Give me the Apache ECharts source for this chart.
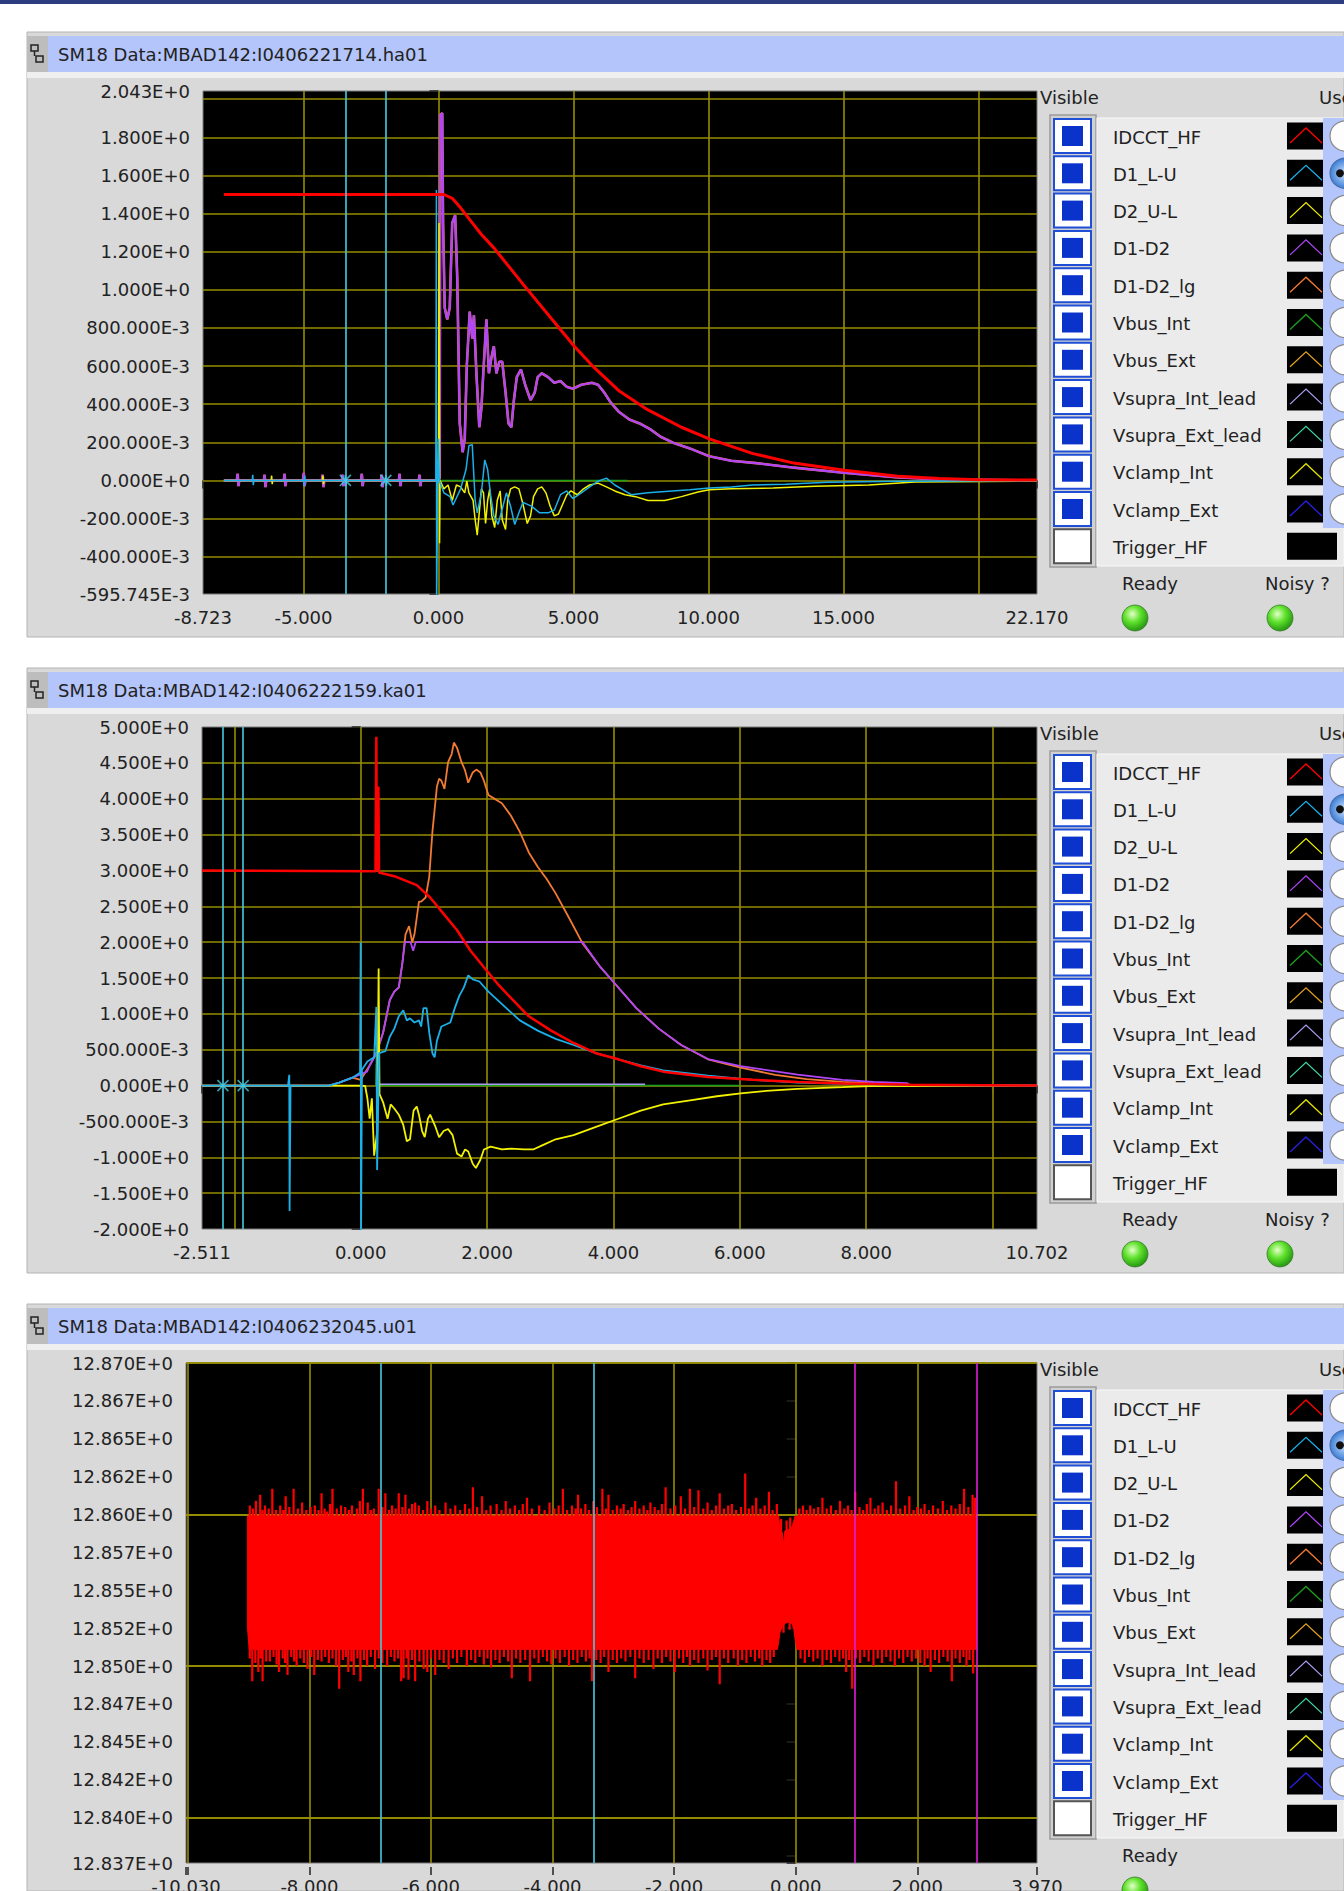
<!DOCTYPE html>
<html><head><meta charset="utf-8">
<script src="https://cdn.jsdelivr.net/npm/echarts@6/dist/echarts.min.js"></script>
<style>html,body{margin:0;padding:0;background:#fff;}#c{width:1344px;height:1891px;}</style>
</head><body><div id="c"></div>
<script>
// ---------------- DATA ----------------
const titles = ['SM18 Data:MBAD142:I0406221714.ha01','SM18 Data:MBAD142:I0406222159.ka01','SM18 Data:MBAD142:I0406232045.u01'];
const legendNames = ['IDCCT_HF','D1_L-U','D2_U-L','D1-D2','D1-D2_lg','Vbus_Int','Vbus_Ext','Vsupra_Int_lead','Vsupra_Ext_lead','Vclamp_Int','Vclamp_Ext','Trigger_HF'];
const legendColors = ['#ff0000','#1ab0ea','#f2f200','#b046fa','#f27a32','#1aa01a','#e0a020','#a89cf0','#40d8a8','#e0e000','#2a20e0',null];

// panel 1 axes
const p1XRange = [-8.723, 22.17];
const p1XTicks = [-8.723,-5,0,5,10,15,20,22.17];
const p1XLabels = [-8.723,-5,0,5,10,15,22.17];
const p1YRange = [-0.595745, 2.043];
const p1YTicks = [-0.595745,-0.4,-0.2,0,0.2,0.4,0.6,0.8,1.0,1.2,1.4,1.6,1.8,2.0,2.043];
const p1YLabels = [-0.595745,-0.4,-0.2,0,0.2,0.4,0.6,0.8,1.0,1.2,1.4,1.6,1.8,2.043];
const p1Cursors = [-3.45,-1.95];
// panel 2 axes
const p2XRange = [-2.511, 10.702];
const p2XTicks = [-2.511,-2,0,2,4,6,8,10,10.702];
const p2XLabels = [-2.511,0,2,4,6,8,10.702];
const p2YRange = [-2, 5];
const p2YTicks = [-2,-1.5,-1,-0.5,0,0.5,1,1.5,2,2.5,3,3.5,4,4.5,5];
const p2YLabels = [-2,-1.5,-1,-0.5,0,0.5,1,1.5,2,2.5,3,3.5,4,4.5,5];
const p2Cursors = [-2.18,-1.86];
// panel 3 axes
const p3XRange = [-10.03, 3.97];
const p3XTicks = [-10.03,-10,-8,-6,-4,-2,0,2,3.97];
const p3XLabels = [-10.03,-8,-6,-4,-2,0,2,3.97];
const p3YRange = [12.837, 12.870];
const p3YTicks = [12.837,12.8375,12.84,12.8425,12.845,12.8475,12.85,12.8525,12.855,12.8575,12.86,12.8625,12.865,12.8675,12.87];
const p3YLabels = [12.837,12.84,12.8425,12.845,12.8475,12.85,12.8525,12.855,12.8575,12.86,12.8625,12.865,12.8675,12.87];
const p3CursorsCyan = [-6.83,-3.33];
const p3CursorsMagenta = [0.97,2.98];

// panel 1 traces
const p1Red = [[-7.95,1.5],[0,1.5],[0.2,1.5],[0.51,1.48],[0.82,1.43],[1.2,1.36],[1.59,1.29],[2.05,1.22],[3.13,1.03],[4.44,0.805],[5.03,0.704],[5.76,0.593],[6.68,0.471],[7.76,0.37],[9.0,0.279],[10.03,0.218],[11.62,0.142],[13.16,0.091],[15.03,0.053],[17.02,0.022],[18.56,0.01],[20.03,0.004],[22.17,0.002]];
const p1Purple = [[-7.95,0],[-7.47,0],[-7.44,0.035],[-7.41,-0.03],[-7.38,0],[-6.47,0],[-6.44,0.03],[-6.41,-0.035],[-6.38,0],[-5.73,0],[-5.70,0.035],[-5.67,-0.03],[-5.64,0],[-5.02,0],[-4.99,0.04],[-4.96,-0.03],[-4.93,0],[-4.32,0],[-4.29,0.03],[-4.26,-0.035],[-4.23,0],[-3.58,0],[-3.55,0.03],[-3.52,-0.03],[-3.49,0],[-2.87,0],[-2.84,0.035],[-2.81,-0.03],[-2.78,0],[-2.13,0],[-2.10,0.03],[-2.07,-0.035],[-2.04,0],[-1.47,0],[-1.44,0.035],[-1.41,-0.03],[-1.38,0],[-0.73,0],[-0.70,0.03],[-0.67,-0.03],[-0.64,0],
 [0,0],[0.046,0.016],[0.062,1.917],[0.139,1.927],[0.17,1.351],[0.231,0.906],[0.324,0.845],[0.417,0.906],[0.509,1.351],[0.617,1.391],[0.694,1.068],[0.787,0.299],[0.895,0.148],[0.972,0.218],[1.049,0.603],[1.157,0.886],[1.25,0.744],[1.312,0.866],[1.404,0.562],[1.512,0.279],[1.59,0.38],[1.667,0.582],[1.775,0.845],[1.867,0.562],[1.96,0.643],[2.05,0.704],[2.145,0.562],[2.253,0.623],[2.361,0.623],[2.485,0.461],[2.593,0.299],[2.7,0.279],[2.793,0.421],[2.9,0.542],[3.056,0.582],[3.21,0.502],[3.41,0.421],[3.565,0.461],[3.673,0.542],[3.827,0.562],[4.06,0.542],[4.29,0.512],[4.52,0.522],[4.75,0.491],[4.98,0.481],[5.29,0.502],[5.68,0.512],[5.91,0.502],[6.14,0.461],[6.37,0.411],[6.68,0.36],[7.07,0.32],[7.45,0.299],[7.84,0.269],[8.23,0.229],[8.69,0.198],[9.31,0.168],[10.03,0.127],[10.85,0.103],[11.77,0.091],[13.16,0.067],[15.03,0.04],[17.02,0.016],[18.56,0.006],[22.17,0]];
const p1Orange = p1Purple;
const p1Cyan = [[-7.95,0],[-6.9,0],[-6.88,0.03],[-6.86,-0.025],[-6.84,0],[-5.0,0],[-4.98,-0.03],[-4.96,0.025],[-4.94,0],[-3.47,0],[-3.45,0.03],[-3.43,-0.03],[-3.41,0],[-1.97,0],[-1.95,0.03],[-1.93,-0.03],[-1.91,0],[-0.1,0],[-0.077,1.523],[-0.07,-0.7],[-0.03,0],[0,0.218],[0.03,0],[0.2,-0.065],[0.43,-0.085],[0.54,-0.129],[0.82,-0.044],[1.02,0.057],[1.127,0.182],[1.25,0.188],[1.358,-0.105],[1.435,-0.17],[1.59,-0.065],[1.713,0.107],[1.821,0.057],[1.929,-0.075],[2.05,-0.186],[2.207,-0.231],[2.361,-0.15],[2.515,-0.065],[2.67,-0.135],[2.824,-0.231],[2.978,-0.17],[3.13,-0.115],[3.44,-0.135],[3.75,-0.17],[4.06,-0.17],[4.29,-0.156],[4.52,-0.075],[4.75,-0.055],[4.98,-0.095],[5.29,-0.065],[5.6,-0.034],[5.91,-0.004],[6.22,0.012],[6.53,-0.024],[6.84,-0.049],[7.14,-0.075],[7.76,-0.065],[8.53,-0.057],[9.31,-0.049],[10.03,-0.04],[10.85,-0.034],[11.62,-0.024],[12.85,-0.02],[14.4,-0.01],[17.02,-0.004],[22.17,-0.002]];
const p1Yellow = [[-7.95,0],[-6.2,0],[-6.18,0.025],[-6.16,-0.02],[-6.14,0],[-4.3,0],[-4.28,0.025],[-4.26,-0.02],[-4.24,0],[0,0],[0.02,1.35],[0.04,-0.33],[0.06,0],[0.2,-0.044],[0.355,-0.024],[0.509,-0.105],[0.664,-0.024],[0.818,-0.034],[0.972,-0.065],[1.049,-0.004],[1.127,-0.065],[1.281,-0.105],[1.358,-0.206],[1.435,-0.287],[1.512,-0.166],[1.59,-0.044],[1.667,-0.065],[1.744,-0.226],[1.821,-0.105],[1.898,-0.044],[1.975,-0.186],[2.083,-0.247],[2.176,-0.105],[2.284,-0.055],[2.361,-0.206],[2.485,-0.257],[2.562,-0.105],[2.67,-0.044],[2.824,-0.034],[2.978,-0.044],[3.13,-0.125],[3.287,-0.226],[3.41,-0.186],[3.52,-0.085],[3.673,-0.044],[3.827,-0.034],[3.98,-0.065],[4.136,-0.135],[4.29,-0.186],[4.444,-0.176],[4.6,-0.125],[4.753,-0.075],[4.907,-0.055],[5.139,-0.075],[5.37,-0.044],[5.6,-0.024],[5.91,-0.014],[6.22,-0.034],[6.53,-0.055],[6.91,-0.075],[7.3,-0.085],[7.76,-0.105],[8.38,-0.105],[9.0,-0.085],[9.61,-0.061],[10.03,-0.049],[10.85,-0.044],[12.39,-0.04],[13.94,-0.03],[15.94,-0.024],[17.64,-0.008],[22.17,-0.004]];
const p1Green = [[0,0],[7.0,0]];

// panel 2 traces
const p2Red = [[-2.511,3.0],[0.234,2.99],[0.248,4.863],[0.255,2.99],[0.27,3.82],[0.28,4.17],[0.29,2.97],[0.532,2.92],[0.887,2.794],[1.099,2.623],[1.312,2.394],[1.525,2.166],[1.738,1.88],[1.95,1.651],[2.163,1.423],[2.376,1.223],[2.66,0.966],[3.014,0.766],[3.369,0.594],[3.723,0.451],[4.078,0.366],[4.433,0.269],[4.787,0.194],[5.496,0.12],[6.206,0.08],[6.915,0.051],[7.624,0.029],[8.688,0.011],[10.702,0]];
const p2Orange = [[-2.511,0],[-0.5,0],[-0.34,0.04],[-0.13,0.11],[0,0.08],[0.142,0.28],[0.248,0.451],[0.355,0.737],[0.461,1.194],[0.532,1.309],[0.603,1.366],[0.66,1.709],[0.709,2.109],[0.766,2.223],[0.816,1.994],[0.851,2.109],[0.887,2.337],[0.922,2.566],[0.957,2.566],[1.028,2.623],[1.085,2.909],[1.135,3.537],[1.206,4.166],[1.241,4.28],[1.277,4.251],[1.326,4.137],[1.383,4.509],[1.44,4.623],[1.475,4.783],[1.525,4.709],[1.596,4.509],[1.652,4.394],[1.702,4.223],[1.773,4.366],[1.83,4.406],[1.894,4.366],[1.95,4.251],[2.021,4.051],[2.128,3.994],[2.234,3.937],[2.376,3.766],[2.518,3.537],[2.66,3.251],[2.801,3.051],[2.943,2.88],[3.085,2.68],[3.298,2.337],[3.511,1.983],[3.794,1.651],[4.021,1.423],[4.362,1.08],[4.716,0.794],[5.071,0.566],[5.496,0.366],[6.014,0.251],[6.56,0.149],[7.057,0.091],[7.624,0.051],[8.121,0.029],[8.688,0.011],[10.702,0]];
const p2Purple = [[-2.511,0],[-0.5,0],[-0.34,0.04],[-0.13,0.11],[0.1,0.195],[0.142,0.28],[0.248,0.45],[0.355,0.74],[0.461,1.19],[0.532,1.31],[0.603,1.37],[0.66,1.71],[0.70,2.0],[0.79,2.0],[0.83,1.88],[0.87,2.0],[3.511,2.0],[3.794,1.651],[4.021,1.423],[4.362,1.08],[4.716,0.794],[5.071,0.566],[5.496,0.37],[6.014,0.27],[6.915,0.154],[7.624,0.08],[8.121,0.05],[8.65,0.034],[8.7,0],[10.702,0]];
const p2Cyan = [[-2.511,0],[-1.15,0],[-1.13,0.15],[-1.125,-1.75],[-1.11,0],[-0.5,0],[-0.34,0.04],[-0.13,0.11],[-0.01,0.18],[0.0,2.0],[0.006,-2.1],[0.02,0.22],[0.106,0.337],[0.213,0.394],[0.248,1.097],[0.26,-1.177],[0.291,0.451],[0.39,0.48],[0.461,0.68],[0.532,0.794],[0.603,0.966],[0.674,1.051],[0.73,0.909],[0.78,0.937],[0.851,0.88],[0.922,0.909],[0.957,0.823],[0.993,1.08],[1.043,1.08],[1.085,0.737],[1.135,0.451],[1.17,0.394],[1.206,0.623],[1.277,0.823],[1.348,0.851],[1.418,0.88],[1.489,1.08],[1.56,1.251],[1.631,1.366],[1.702,1.537],[1.773,1.48],[1.879,1.451],[2.021,1.309],[2.163,1.194],[2.305,1.08],[2.518,0.909],[2.801,0.766],[3.085,0.651],[3.369,0.566],[3.723,0.451],[4.078,0.366],[4.433,0.28],[4.787,0.211],[5.496,0.137],[6.206,0.08],[6.915,0.04],[7.624,0.023],[8.688,0.006],[10.702,0]];
const p2Yellow = [[-2.511,0],[0,0],[0.071,-0.006],[0.106,-0.177],[0.142,-0.463],[0.177,-0.177],[0.213,-0.977],[0.262,-0.634],[0.284,1.634],[0.298,-0.12],[0.355,-0.234],[0.39,-0.349],[0.426,-0.463],[0.475,-0.263],[0.532,-0.32],[0.603,-0.406],[0.674,-0.549],[0.73,-0.777],[0.78,-0.749],[0.837,-0.349],[0.887,-0.291],[0.922,-0.406],[0.972,-0.634],[1.014,-0.72],[1.064,-0.463],[1.099,-0.406],[1.142,-0.491],[1.184,-0.577],[1.241,-0.72],[1.312,-0.634],[1.383,-0.606],[1.454,-0.691],[1.525,-0.949],[1.596,-0.989],[1.652,-0.891],[1.702,-0.92],[1.773,-1.091],[1.823,-1.149],[1.894,-1.034],[1.95,-0.891],[2.057,-0.851],[2.234,-0.891],[2.376,-0.88],[2.589,-0.891],[2.73,-0.891],[2.872,-0.834],[3.085,-0.749],[3.369,-0.691],[3.723,-0.577],[4.078,-0.463],[4.433,-0.349],[4.787,-0.263],[5.213,-0.206],[5.638,-0.149],[6.014,-0.109],[6.418,-0.074],[6.915,-0.046],[7.624,-0.023],[8.05,-0.006],[10.702,0]];
const p2Green = [[0.24,0],[0.25,0.3],[0.26,0],[6.0,0]];
const p2Lavender = [[0.26,0.02],[4.5,0.02]];

// panel 3 trace (IDCCT_HF noise band): solid core envelope + spikes
const p3BandT    = [-9.02, -8.99, -0.30, -0.28, -0.26, -0.22, -0.20, -0.18, -0.12, -0.06, -0.03, -0.01, 0.02, 2.97];
const p3BandHigh = [12.8599,12.8599,12.8599,12.8599,12.8590,12.8588,12.8580,12.8589,12.8590,12.8592,12.8596,12.8599,12.8599,12.8599];
const p3BandLow  = [12.8526,12.8511,12.8511,12.8516,12.8522,12.8526,12.8527,12.8528,12.8529,12.8528,12.8524,12.8518,12.8511,12.8511];
const p3BandMid = 12.8555;
const p3UpperSpikes = [[-8.98,12.8606],[-8.93,12.8604],[-8.88,12.8609],[-8.81,12.8613],[-8.77,12.8603],[-8.73,12.8606],[-8.67,12.8604],[-8.61,12.8617],[-8.55,12.8603],[-8.48,12.8606],[-8.43,12.8603],[-8.39,12.8612],[-8.33,12.8605],[-8.26,12.8617],[-8.19,12.8604],[-8.12,12.8608],[-8.05,12.8603],[-7.98,12.8605],[-7.91,12.8606],[-7.85,12.8603],[-7.80,12.8614],[-7.75,12.8604],[-7.71,12.8602],[-7.66,12.8607],[-7.62,12.8617],[-7.55,12.8604],[-7.48,12.8606],[-7.41,12.8605],[-7.35,12.8603],[-7.30,12.8606],[-7.22,12.8604],[-7.17,12.8609],[-7.12,12.8617],[-7.04,12.8608],[-6.99,12.8603],[-6.94,12.8604],[-6.86,12.8617],[-6.80,12.8605],[-6.75,12.8614],[-6.69,12.8603],[-6.64,12.8606],[-6.58,12.8604],[-6.53,12.8614],[-6.47,12.8605],[-6.42,12.8613],[-6.36,12.8604],[-6.31,12.8607],[-6.26,12.8608],[-6.20,12.8606],[-6.13,12.8603],[-6.06,12.8609],[-6.00,12.8604],[-5.93,12.8606],[-5.86,12.8603],[-5.76,12.8608],[-5.68,12.8604],[-5.60,12.8606],[-5.52,12.8603],[-5.44,12.8607],[-5.37,12.8604],[-5.31,12.8618],[-5.24,12.8605],[-5.16,12.8612],[-5.09,12.8603],[-5.02,12.8606],[-4.92,12.8607],[-4.84,12.8603],[-4.77,12.8609],[-4.70,12.8604],[-4.62,12.8606],[-4.55,12.8603],[-4.49,12.8607],[-4.42,12.8611],[-4.34,12.8604],[-4.22,12.8606],[-4.13,12.8603],[-4.05,12.8608],[-3.97,12.8604],[-3.90,12.8606],[-3.83,12.8617],[-3.76,12.8603],[-3.68,12.8606],[-3.62,12.8604],[-3.58,12.8613],[-3.53,12.8604],[-3.46,12.8607],[-3.40,12.8603],[-3.33,12.8609],[-3.27,12.8605],[-3.18,12.8617],[-3.12,12.8604],[-3.08,12.8613],[-3.01,12.8603],[-2.94,12.8606],[-2.88,12.8604],[-2.83,12.8607],[-2.76,12.8603],[-2.70,12.8605],[-2.64,12.8609],[-2.57,12.8604],[-2.50,12.8606],[-2.44,12.8603],[-2.39,12.8608],[-2.32,12.8605],[-2.26,12.8603],[-2.20,12.8607],[-2.14,12.8618],[-2.06,12.8604],[-1.98,12.8606],[-1.89,12.8612],[-1.82,12.8604],[-1.74,12.8617],[-1.67,12.8605],[-1.60,12.8616],[-1.52,12.8604],[-1.45,12.8608],[-1.38,12.8603],[-1.31,12.8606],[-1.25,12.8614],[-1.18,12.8604],[-1.11,12.8606],[-1.05,12.8607],[-0.98,12.8603],[-0.90,12.8605],[-0.83,12.8627],[-0.77,12.8604],[-0.71,12.8606],[-0.65,12.8611],[-0.58,12.8604],[-0.51,12.8606],[-0.44,12.8615],[-0.38,12.8603],[-0.31,12.8607],[-0.24,12.8597],[-0.15,12.8596],[-0.09,12.8598],[0.06,12.8604],[0.12,12.8606],[0.18,12.8603],[0.24,12.8606],[0.30,12.8604],[0.37,12.8605],[0.44,12.8611],[0.51,12.8604],[0.58,12.8606],[0.66,12.8603],[0.73,12.8609],[0.80,12.8604],[0.86,12.8606],[0.92,12.8603],[0.98,12.8615],[1.05,12.8605],[1.11,12.8603],[1.17,12.8607],[1.23,12.8611],[1.30,12.8604],[1.36,12.8606],[1.43,12.8608],[1.50,12.8603],[1.57,12.8606],[1.65,12.8622],[1.72,12.8604],[1.80,12.8606],[1.87,12.8612],[1.94,12.8603],[2.00,12.8605],[2.06,12.8604],[2.12,12.8607],[2.19,12.8603],[2.26,12.8606],[2.34,12.8604],[2.42,12.8609],[2.49,12.8603],[2.56,12.8606],[2.63,12.8604],[2.70,12.8607],[2.77,12.8617],[2.84,12.8605],[2.91,12.8613],[2.95,12.8611]];
const p3LowerSpikes = [[-8.98,12.8505],[-8.94,12.8490],[-8.89,12.8502],[-8.84,12.8496],[-8.80,12.8505],[-8.77,12.8490],[-8.71,12.8503],[-8.65,12.8503],[-8.59,12.8506],[-8.54,12.8501],[-8.50,12.8496],[-8.44,12.8505],[-8.40,12.8502],[-8.36,12.8494],[-8.30,12.8506],[-8.25,12.8503],[-8.21,12.8500],[-8.15,12.8505],[-8.09,12.8502],[-8.03,12.8498],[-7.97,12.8506],[-7.92,12.8494],[-7.86,12.8504],[-7.80,12.8503],[-7.74,12.8506],[-7.68,12.8502],[-7.62,12.8505],[-7.56,12.8500],[-7.51,12.8485],[-7.45,12.8504],[-7.40,12.8506],[-7.36,12.8496],[-7.31,12.8503],[-7.27,12.8494],[-7.21,12.8505],[-7.16,12.8490],[-7.10,12.8504],[-7.05,12.8500],[-6.99,12.8506],[-6.92,12.8498],[-6.86,12.8505],[-6.80,12.8502],[-6.72,12.8500],[-6.66,12.8506],[-6.60,12.8503],[-6.54,12.8505],[-6.49,12.8490],[-6.45,12.8492],[-6.40,12.8505],[-6.37,12.8491],[-6.31,12.8504],[-6.26,12.8490],[-6.19,12.8503],[-6.12,12.8498],[-6.06,12.8496],[-6.00,12.8505],[-5.93,12.8494],[-5.86,12.8504],[-5.79,12.8502],[-5.71,12.8498],[-5.64,12.8505],[-5.57,12.8502],[-5.50,12.8506],[-5.41,12.8500],[-5.34,12.8504],[-5.27,12.8502],[-5.20,12.8506],[-5.13,12.8501],[-5.07,12.8505],[-5.01,12.8499],[-4.94,12.8504],[-4.87,12.8502],[-4.80,12.8506],[-4.73,12.8503],[-4.67,12.8492],[-4.60,12.8505],[-4.53,12.8502],[-4.45,12.8504],[-4.37,12.8490],[-4.30,12.8505],[-4.23,12.8502],[-4.16,12.8506],[-4.09,12.8503],[-4.02,12.8501],[-3.95,12.8505],[-3.88,12.8502],[-3.80,12.8506],[-3.73,12.8500],[-3.66,12.8504],[-3.59,12.8502],[-3.52,12.8506],[-3.45,12.8503],[-3.39,12.8505],[-3.35,12.8490],[-3.28,12.8504],[-3.21,12.8502],[-3.15,12.8506],[-3.08,12.8496],[-3.01,12.8504],[-2.94,12.8502],[-2.87,12.8505],[-2.80,12.8503],[-2.72,12.8506],[-2.64,12.8492],[-2.57,12.8505],[-2.50,12.8502],[-2.42,12.8504],[-2.34,12.8498],[-2.27,12.8505],[-2.20,12.8502],[-2.13,12.8506],[-2.06,12.8503],[-1.99,12.8496],[-1.92,12.8505],[-1.85,12.8502],[-1.79,12.8506],[-1.74,12.8500],[-1.67,12.8504],[-1.60,12.8502],[-1.52,12.8505],[-1.45,12.8497],[-1.38,12.8504],[-1.31,12.8506],[-1.25,12.8488],[-1.18,12.8505],[-1.11,12.8502],[-1.02,12.8505],[-0.95,12.8500],[-0.88,12.8504],[-0.81,12.8502],[-0.74,12.8506],[-0.67,12.8503],[-0.60,12.8505],[-0.55,12.8500],[-0.48,12.8504],[-0.42,12.8502],[-0.36,12.8506],[-0.2,12.8522],[-0.1,12.8524],[0.08,12.8505],[0.15,12.8502],[0.22,12.8506],[0.29,12.8503],[0.36,12.8505],[0.44,12.8500],[0.51,12.8504],[0.58,12.8502],[0.65,12.8506],[0.72,12.8503],[0.78,12.8505],[0.83,12.8496],[0.88,12.8504],[0.93,12.8485],[0.99,12.8505],[1.06,12.8502],[1.13,12.8506],[1.20,12.8503],[1.28,12.8500],[1.35,12.8505],[1.42,12.8502],[1.49,12.8506],[1.56,12.8503],[1.63,12.8500],[1.70,12.8505],[1.77,12.8502],[1.84,12.8506],[1.91,12.8503],[1.98,12.8505],[2.05,12.8502],[2.12,12.8500],[2.17,12.8505],[2.22,12.8496],[2.29,12.8504],[2.36,12.8502],[2.43,12.8506],[2.50,12.8503],[2.57,12.8490],[2.63,12.8505],[2.70,12.8502],[2.76,12.8506],[2.81,12.8500],[2.86,12.8504],[2.92,12.8495]];

// ---------------- LAYOUT / STYLE ----------------
const FONT = 'DejaVu Sans';
const GRIDLINE = '#958d00';
const CURSOR_CYAN = '#45cbe0';
const CURSOR_MAGENTA = '#e01ed8';
const TITLE_BLUE = '#b4c5fb';
const layout = [
  {gTop:91,  gLeft:203, gRight:1037, gBottom:594,  pBottom:637,  noisy:true},
  {gTop:727, gLeft:202, gRight:1037, gBottom:1229, pBottom:1273, noisy:true},
  {gTop:1363,gLeft:186, gRight:1037, gBottom:1863, pBottom:1891, noisy:false}
];
const axesDef = [
  {x:p1XRange, xt:p1XTicks, xl:p1XLabels, y:p1YRange, yt:p1YTicks, yl:p1YLabels, fmt:fmtEng},
  {x:p2XRange, xt:p2XTicks, xl:p2XLabels, y:p2YRange, yt:p2YTicks, yl:p2YLabels, fmt:fmtEng},
  {x:p3XRange, xt:p3XTicks, xl:p3XLabels, y:p3YRange, yt:p3YTicks, yl:p3YLabels, fmt:fmtTrunc}
];
function fmtEng(v){
  if (Math.abs(v) < 1e-9) return '0.000E+0';
  if (Math.abs(v) >= 1) return v.toFixed(3) + 'E+0';
  return (v*1000).toFixed(3) + 'E-3';
}
function fmtTrunc(v){ return (Math.floor(v*1000 + 1e-6)/1000).toFixed(3) + 'E+0'; }

const grids = [], xAxes = [], yAxes = [], series = [];
layout.forEach((L,i)=>{
  const A = axesDef[i];
  grids.push({left:L.gLeft, top:L.gTop, width:L.gRight-L.gLeft, height:L.gBottom-L.gTop, show:true, backgroundColor:'#000', borderColor:'#7a7a7a', borderWidth:1, outerBoundsMode:'none', containLabel:false});
  xAxes.push({type:'value', gridIndex:i, min:A.x[0], max:A.x[1], offset:4,
    axisLine:{show:false},
    axisTick:{show:true, length:8, customValues:A.xt, lineStyle:{color:'#222', width:1.5}},
    axisLabel:{show:true, customValues:A.xl, margin:10, color:'#222', fontSize:18, fontFamily:FONT, formatter:v=>v.toFixed(3)},
    splitLine:{show:false}});
  yAxes.push({type:'value', gridIndex:i, min:A.y[0], max:A.y[1], offset:2,
    axisLine:{show:false},
    axisTick:{show:true, length:9, customValues:A.yt, lineStyle:{color:'#222', width:1.5}},
    axisLabel:{show:true, customValues:A.yl, margin:11, color:'#222', fontSize:18, fontFamily:FONT, formatter:A.fmt},
    splitLine:{show:false}});
  const gl = A.xt.slice(1,-1).map(v=>({xAxis:v})).concat(A.yt.slice(1,-1).map(v=>({yAxis:v})));
  series.push({type:'line', name:'grid'+i, xAxisIndex:i, yAxisIndex:i, data:[], silent:true,
    markLine:{silent:true, z:1, symbol:'none', animation:false, label:{show:false},
      lineStyle:{type:'solid', color:GRIDLINE, width:1.6}, emphasis:{disabled:true}, data:gl}});
});

function trace(i, name, color, data, width){
  return {type:'line', name, xAxisIndex:i, yAxisIndex:i, data, symbol:'none', showSymbol:false,
    lineStyle:{color, width}, itemStyle:{color}, silent:true, animation:false, clip:true, z:2};
}
const C = legendColors;
// panel 1
series.push(trace(0,'Vbus_Int',C[5],p1Green,1.5));
series.push(trace(0,'D1-D2_lg',C[4],p1Orange,2.6));
series.push(trace(0,'D1-D2',C[3],p1Purple,2.2));
series.push(trace(0,'D2_U-L',C[2],p1Yellow,1.5));
series.push(trace(0,'D1_L-U',C[1],p1Cyan,1.5));
series.push(trace(0,'IDCCT_HF',C[0],p1Red,3));
// panel 2
series.push(trace(1,'Vbus_Int',C[5],p2Green,1.5));
series.push(trace(1,'Vsupra_Int_lead',C[7],p2Lavender,1.5));
series.push(trace(1,'D1-D2_lg',C[4],p2Orange,1.8));
series.push(trace(1,'D1-D2',C[3],p2Purple,1.8));
series.push(trace(1,'D2_U-L',C[2],p2Yellow,1.8));
series.push(trace(1,'D1_L-U',C[1],p2Cyan,1.8));
series.push(trace(1,'IDCCT_HF',C[0],p2Red,2.5));
// panel 3: core band polygon through the coordinate system
series.push({type:'custom', name:'IDCCT_HF', xAxisIndex:2, yAxisIndex:2, silent:true, z:2,
  data:[[p3BandT[0], p3BandHigh[0]]],
  renderItem:function(params, api){
    const pts = [];
    for (let k=0;k<p3BandT.length;k++) pts.push(api.coord([p3BandT[k], p3BandHigh[k]]));
    for (let k=p3BandT.length-1;k>=0;k--) pts.push(api.coord([p3BandT[k], p3BandLow[k]]));
    return {type:'polygon', shape:{points:pts}, style:{fill:C[0], stroke:C[0], lineWidth:1}};
  }});
const spikes = p3UpperSpikes.concat(p3LowerSpikes).sort((a,b)=>a[0]-b[0]);
const spikeLine = [];
spikes.forEach(s=>{ spikeLine.push([s[0],p3BandMid],[s[0],s[1]],[s[0],p3BandMid]); });
series.push(trace(2,'IDCCT_HF',C[0],spikeLine,2.2));

// cursors + cursor crossing markers
function cursors(i, vals, color){
  return {type:'line', name:'cursor', xAxisIndex:i, yAxisIndex:i, data:[], silent:true,
    markLine:{silent:true, z:6, symbol:'none', animation:false, label:{show:false},
      lineStyle:{type:'solid', color, width:1.6}, emphasis:{disabled:true}, data:vals.map(v=>({xAxis:v}))}};
}
function crossMarks(i, vals, color){
  return {type:'scatter', xAxisIndex:i, yAxisIndex:i, silent:true, z:7, data:vals.map(v=>[v,0]),
    symbol:'path://M0,0L10,10M10,0L0,10', symbolSize:11,
    itemStyle:{color:'none', borderColor:color, borderWidth:1.6}};
}
series.push(cursors(0,p1Cursors,CURSOR_CYAN));
series.push(crossMarks(0,p1Cursors,CURSOR_CYAN));
series.push(cursors(1,p2Cursors,CURSOR_CYAN));
series.push(crossMarks(1,p2Cursors,CURSOR_CYAN));
series.push(cursors(2,p3CursorsCyan,CURSOR_CYAN));
series.push(cursors(2,p3CursorsMagenta,CURSOR_MAGENTA));

// ---------------- PANEL CHROME (graphic) ----------------
const G = [];
function rect(x,y,w,h,style,z){ G.push({type:'rect', silent:true, z:z||1, shape:{x,y,width:w,height:h}, style}); }
function text(x,y,s,opt){ G.push(Object.assign({type:'text', silent:true, z:5, x, y,
  style:{text:s, fill:'#222', fontSize:18, fontFamily:FONT, align:'left', verticalAlign:'middle'}}, opt||{})); }
function circle(cx,cy,r,style,z){ G.push({type:'circle', silent:true, z:z||4, shape:{cx,cy,r}, style}); }
rect(0,0,1344,4,{fill:'#2d3c7e'},-5);
const ledFill = {type:'radial', x:0.4, y:0.35, r:0.7, colorStops:[{offset:0,color:'#e4ffc8'},{offset:0.45,color:'#5fe22c'},{offset:1,color:'#1f8e10'}]};
layout.forEach((L,i)=>{
  const T = L.gTop;
  rect(27, T-59, 1317, L.pBottom-(T-59), {fill:'#d9d9d9', stroke:'#b4b4b4', lineWidth:1}, -5);
  rect(27, T-55, 21, 36, {fill:'#bdbdbd'}, -4);
  rect(48, T-55, 1296, 36, {fill:TITLE_BLUE}, -4);
  rect(27, T-19, 1317, 6, {fill:'#efefef'}, -4);
  rect(31, T-46, 7, 6, {fill:'none', stroke:'#222', lineWidth:1.5}, 2);
  rect(36, T-35, 7, 6, {fill:'none', stroke:'#222', lineWidth:1.5}, 2);
  G.push({type:'line', silent:true, z:2, shape:{x1:34.5,y1:T-40,x2:34.5,y2:T-35}, style:{stroke:'#222', lineWidth:1.5}});
  text(58, T-37, titles[i]);
  text(1040, T+6, 'Visible');
  text(1319, T+6, 'User');
  rect(1050, T+24, 46, 452, {fill:'#d0d0d0', stroke:'#9a9a9a', lineWidth:1.5}, 1);
  rect(1097, T+27, 247, 448, {fill:'#ebebeb', stroke:'#f8f8f8', lineWidth:1}, 1);
  rect(1323, T+27, 21, 410, {fill:TITLE_BLUE}, 2);
  legendNames.forEach((nm,k)=>{
    const cy = T + 45 + k*37.3;
    const vis = legendColors[k] !== null;
    rect(1054, cy-17, 37, 34, {fill:'#fff', stroke: vis ? '#1f4fd6' : '#555', lineWidth:2}, 3);
    if (vis) rect(1062, cy-10, 21, 20, {fill:'#0a33cc'}, 4);
    text(1113, cy+1, nm);
    rect(1287, cy-13.5, vis ? 36 : 50, 27, {fill:'#000'}, 3);
    if (vis) {
      G.push({type:'polyline', silent:true, z:4, shape:{points:[[1290,cy+7],[1306,cy-8],[1322,cy+7]]}, style:{stroke:legendColors[k], lineWidth:1.3, fill:null}});
      if (k === 1) {
        circle(1345, cy, 15, {fill:{type:'radial',x:0.5,y:0.5,r:0.5,colorStops:[{offset:0,color:'#cfe3ff'},{offset:1,color:'#3d7fd6'}]}, stroke:'#4a6fa8', lineWidth:1.2});
        circle(1340, cy, 4, {fill:'#111'}, 5);
      } else {
        circle(1345, cy, 15, {fill:'#fdfdfd', stroke:'#8a8a8a', lineWidth:1.2});
      }
    }
  });
  text(1122, T+492, 'Ready');
  circle(1135, T+527, 13, {fill:ledFill, stroke:'#3a7a2a', lineWidth:0.8});
  if (L.noisy) {
    text(1265, T+492, 'Noisy ?');
    circle(1280, T+527, 13, {fill:ledFill, stroke:'#3a7a2a', lineWidth:0.8});
  }
});

const chart = echarts.init(document.getElementById('c'), null, {renderer:'svg', width:1344, height:1891});
chart.setOption({
  animation:false,
  backgroundColor:'#ffffff',
  grid:grids, xAxis:xAxes, yAxis:yAxes, series:series,
  graphic:{elements:G}
});
</script></body></html>
